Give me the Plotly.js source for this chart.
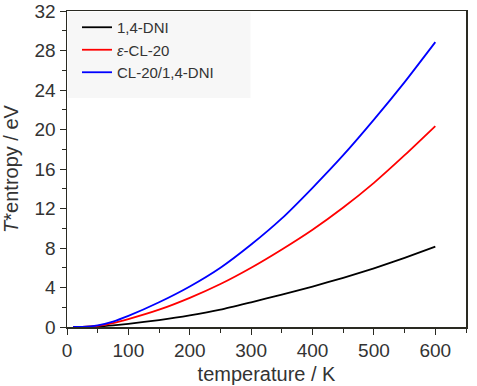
<!DOCTYPE html>
<html><head><meta charset="utf-8">
<script src="https://cdn.plot.ly/plotly-3.0.1.min.js"></script>
<style>html,body{margin:0;padding:0;background:#fff}#c{width:477px;height:386px}</style>
</head><body><div id="c"></div>
<script>
const temperature = [10, 25, 50, 75, 100, 150, 200, 250, 300, 350, 400, 450, 500, 550, 600];
const dni = [0, 0.005, 0.05, 0.16, 0.32, 0.7, 1.17, 1.75, 2.5, 3.28, 4.1, 4.98, 5.94, 7.0, 8.13];
const cl20 = [0, 0.01, 0.12, 0.4, 0.8, 1.75, 2.95, 4.35, 6.0, 7.85, 9.85, 12.1, 14.6, 17.4, 20.35];
const cocrystal = [0, 0.01, 0.17, 0.55, 1.12, 2.5, 4.1, 6.0, 8.35, 11.0, 14.1, 17.4, 21.0, 24.8, 28.85];
const seriesNames = ['1,4-DNI', '<i>ε</i>-CL-20', 'CL-20/1,4-DNI'];

const font = 'Liberation Sans, Arial, sans-serif';
const axisCol = '#2a2a22';
const txtCol = '#333333';
const mk = (y, name, color) => ({x: temperature, y: y, name: name, mode: 'lines',
  line: {color: color, width: 1.8, shape: 'spline', smoothing: 0.6}});
const traces = [
  mk(dni, seriesNames[0], '#000000'),
  mk(cl20, seriesNames[1], '#ff0000'),
  mk(cocrystal, seriesNames[2], '#0000ff')
];
const layout = {
  width: 477, height: 386,
  margin: {l: 67, r: 11, t: 11, b: 59},
  paper_bgcolor: '#fff', plot_bgcolor: '#fff',
  font: {family: font, color: txtCol},
  showlegend: true,
  legend: {x: 0.025, y: 1, xanchor: 'left', yanchor: 'top', bgcolor: 'rgba(0,0,0,0)',
           font: {size: 15, color: txtCol, family: font}, tracegroupgap: 0, itemwidth: 30},
  shapes: [{type: 'rect', xref: 'paper', yref: 'paper', x0: 0.002, x1: 0.46, y0: 0.725, y1: 0.998,
            fillcolor: '#f7f7f7', line: {width: 0}, layer: 'below'}],
  xaxis: {
    range: [0, 650], tickvals: [0, 100, 200, 300, 400, 500, 600],
    ticks: 'outside', ticklen: 6, tickwidth: 1, tickcolor: axisCol,
    minor: {dtick: 50, tick0: 0, ticks: 'outside', ticklen: 4, tickcolor: axisCol},
    showline: true, linecolor: axisCol, linewidth: 1.5, mirror: true,
    showgrid: false, zeroline: false,
    tickfont: {size: 19, color: txtCol},
    title: {text: 'temperature / K', font: {size: 20, color: txtCol}, standoff: 6}
  },
  yaxis: {
    range: [0, 32], tickvals: [0, 4, 8, 12, 16, 20, 24, 28, 32],
    ticks: 'outside', ticklen: 6, tickwidth: 1, tickcolor: axisCol,
    minor: {dtick: 2, tick0: 0, ticks: 'outside', ticklen: 4, tickcolor: axisCol},
    showline: true, linecolor: axisCol, linewidth: 1.5, mirror: true,
    showgrid: false, zeroline: false,
    tickfont: {size: 19, color: txtCol},
    title: {text: '<i>T</i>*entropy / eV', font: {size: 20, color: txtCol}, standoff: 10}
  }
};
Plotly.newPlot('c', traces, layout, {displayModeBar: false, staticPlot: true});
</script></body></html>
